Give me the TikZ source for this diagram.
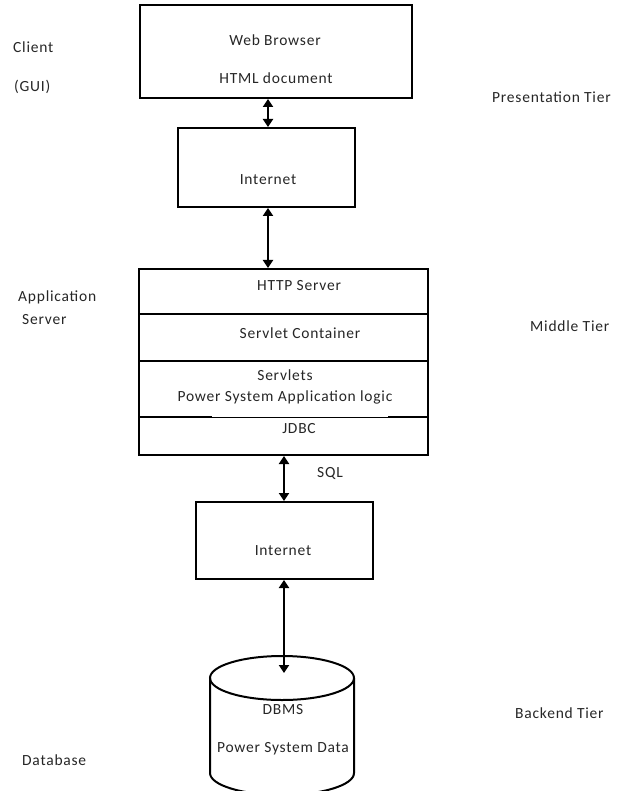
\documentclass[tikz,border=0pt]{standalone}
\usepackage{fontspec}
\setmainfont{Carlito}[LetterSpace=5]
\usetikzlibrary{arrows.meta}
\begin{document}
\begin{tikzpicture}[x=1pt,y=-1pt,
  box/.style={draw,line width=2pt,rectangle,inner sep=0pt},
  lbl/.style={font=\fontsize{15.5}{17}\selectfont,text=black!85,inner sep=0pt},
  conn/.style={line width=2.4pt,{Triangle[width=10pt,length=8pt]}-{Triangle[width=10pt,length=8pt]}}]
\useasboundingbox (0,0) rectangle (623,791);
% boxes
\node[box,minimum width=272pt,minimum height=93pt] (web) at (276,51.5) {};
\node[box,minimum width=177pt,minimum height=79pt] (inet1) at (266.5,167.5) {};
\node[box,minimum width=289pt,minimum height=186pt] (app) at (283.5,362) {};
\node[box,minimum width=177pt,minimum height=77pt] (inet2) at (284.5,540.5) {};
% app dividers
\draw[line width=2pt] (app.west |- 0,314) -- (app.east |- 0,314);
\draw[line width=2pt] (app.west |- 0,361) -- (app.east |- 0,361);
\draw[line width=2pt] (app.west |- 0,417) -- (212,417);
\draw[line width=1.2pt] (212,417.5) -- (388,417.5);
\draw[line width=2pt] (388,417) -- (app.east |- 0,417);
% database cylinder
\coordinate (dbtop) at (282,678);
\draw[line width=2pt] (210,678) -- (210,773) arc[start angle=180,end angle=0,x radius=72,y radius=22] -- (354,678);
\draw[line width=2pt] (dbtop) ellipse [x radius=72, y radius=22];
\coordinate (dbin) at (284,673);
% texts
\node[lbl] (t1) at (275,40) {Web Browser};
\node[lbl] (t2) at (276,78) {HTML document};
\node[lbl] (t3) at (268,180) {Internet};
\node[lbl] (t4) at (299,286) {HTTP Server};
\node[lbl] (t5) at (300,333) {Servlet Container};
\node[lbl] (t6) at (285,375) {Servlets};
\node[lbl] (t7) at (285,397) {Power System Application logic};
\node[lbl] (t8) at (299,429) {JDBC};
\node[lbl] (sql) at (330,473) {SQL};
\node[lbl] (t9) at (283,551) {Internet};
\node[lbl] (t10) at (283,710) {DBMS};
\node[lbl] (t11) at (283,749) {Power System Data};
\node[lbl,anchor=west] (c1) at (13,47) {Client};
\node[lbl,anchor=west] (c2) at (14,87) {(GUI)};
\node[lbl,anchor=west] (c3) at (18,297) {Application};
\node[lbl,anchor=west] (c4) at (22,320) {Server};
\node[lbl,anchor=west] (c5) at (22,760) {Database};
\node[lbl,anchor=west] (r1) at (492,97) {Presentation Tier};
\node[lbl,anchor=west] (r2) at (530,326) {Middle Tier};
\node[lbl,anchor=west] (r3) at (515,713) {Backend Tier};
% connectors
\coordinate (ax1) at (268,0);
\coordinate (ax2) at (284,0);
\draw[conn] (web.south -| ax1) -- (inet1.north -| ax1);
\draw[conn] (inet1.south -| ax1) -- (app.north -| ax1);
\draw[conn] (app.south -| ax2) -- (inet2.north -| ax2);
\draw[conn] (inet2.south -| ax2) -- (dbin);
\end{tikzpicture}
\end{document}
